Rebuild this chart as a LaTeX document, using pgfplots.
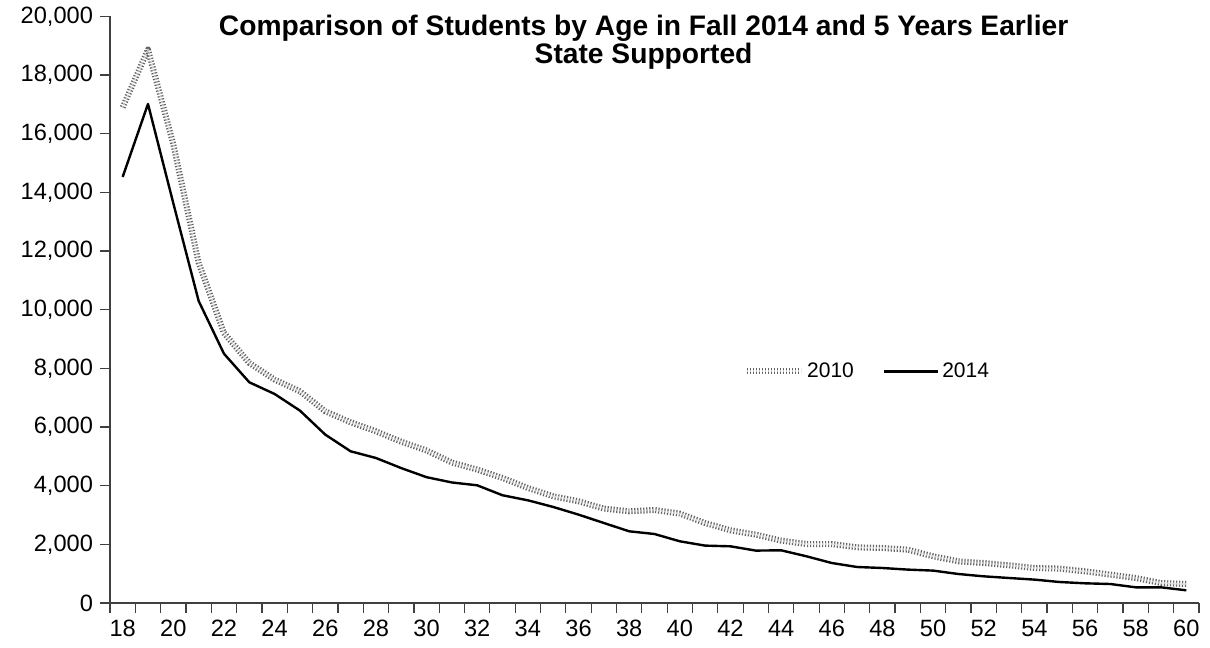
\documentclass[border=0pt]{standalone}
\usepackage{fontspec}
\setmainfont{Liberation Sans}
\usepackage{pgfplots}
\pgfplotsset{compat=1.18}
\usepackage{pgfplotstable}

% students by age
\pgfplotstableread{
age y2010 y2014
18 16900 14527
19 18870 17016
20 15640 13630
21 11600 10300
22 9207 8500
23 8184 7526
24 7618 7127
25 7219 6560
26 6537 5742
27 6162 5173
28 5855 4945
29 5500 4600
30 5200 4290
31 4790 4110
32 4549 4013
33 4263 3673
34 3922 3502
35 3639 3275
36 3468 3014
37 3219 2728
38 3127 2445
39 3172 2353
40 3049 2104
41 2728 1957
42 2479 1933
43 2332 1787
44 2128 1797
45 2012 1593
46 2012 1364
47 1899 1228
48 1876 1194
49 1821 1139
50 1593 1105
51 1422 989
52 1364 910
53 1286 853
54 1194 798
55 1173 716
56 1081 672
57 968 648
58 853 535
59 682 535
60 648 433
}\students

\begin{document}
\begin{tikzpicture}
\begin{axis}[
    name=ax,
    at={(0,0)}, anchor=south west,
    scale only axis,
    width=544.5pt, height=293.3pt,
    xmin=17.5, xmax=60.5,
    ymin=0, ymax=20000,
    axis x line*=bottom, axis y line*=left,
    axis line style={black!75, line width=0.6pt},
    tick align=outside,
    major tick length=5pt, minor tick length=5pt,
    xtick={18,20,...,60},
    minor xtick={17.5,18.5,...,60.5},
    major x tick style={draw=none},
    tick style={black!75, line width=0.6pt},
    ytick={0,2000,...,20000},
    scaled y ticks=false,
    /pgf/number format/.cd, 1000 sep={,}, assume math mode=true,
    /pgfplots/.cd,
    tick label style={font=\fontsize{11.8}{12}\selectfont},
    title={Comparison of Students by Age in Fall 2014 and 5 Years Earlier\\State Supported},
    title style={at={(0.49,1)}, anchor=north, yshift=-2pt, align=center,
        font=\fontsize{14.1}{14}\selectfont\bfseries},
    legend columns=2,
    legend style={at={(0.582,0.395)}, anchor=west, draw=none, fill=none,
        inner sep=0pt, font=\fontsize{10.5}{12}\selectfont,
        nodes={inner sep=1.5pt},
        /tikz/every even column/.append style={column sep=13pt}},
    legend image code/.code={\draw[#1] (0pt,0pt) -- (27pt,0pt);},
]
\addplot[draw=white!78!black, line width=1pt, dash pattern=on 0.6pt off 0.9pt,
    preaction={draw=black!62, line width=3pt}, line join=round]
    table[x=age, y=y2010] {\students};
\addlegendentry{2010}
\addplot[black, line width=1.2pt, line join=round]
    table[x=age, y=y2014] {\students};
\addlegendentry{2014}
\end{axis}
\path (-55pt,-22.15pt) rectangle (550pt,300.9pt);
\end{tikzpicture}
\end{document}
